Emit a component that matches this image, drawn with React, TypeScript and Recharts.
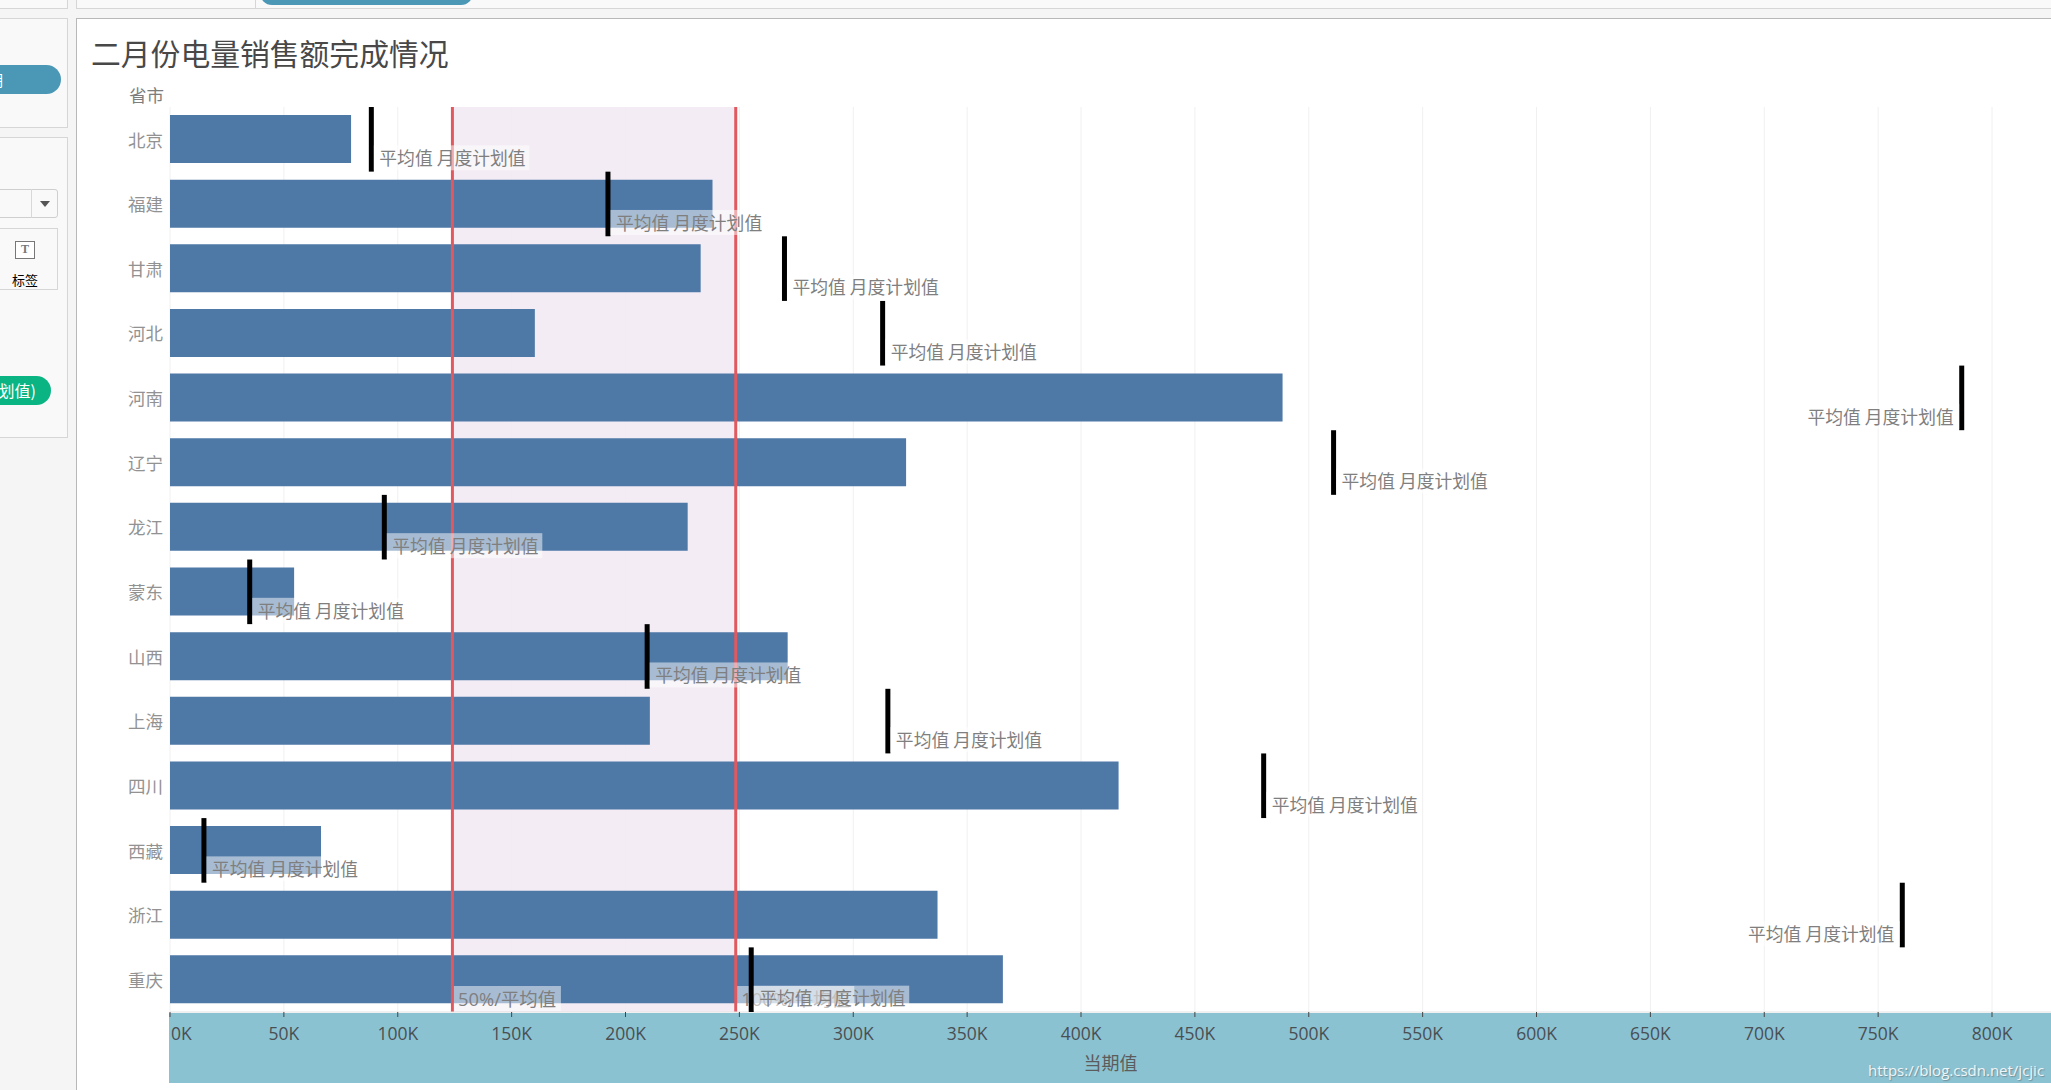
import React from "react";
import {
  ComposedChart, Bar, Line, XAxis, YAxis, CartesianGrid, ReferenceArea, ReferenceLine,
} from "recharts";

const provinces = ["北京","福建","甘肃","河北","河南","辽宁","龙江","蒙东","山西","上海","四川","西藏","浙江","重庆"];
const currentValues = [79500,238200,233000,160200,488500,323200,227300,54500,271200,210700,416500,66300,337000,365700];
const planValues = [88400,192300,269800,312900,786700,510900,94100,35000,209500,315200,480200,14900,760600,255200];
const xTicks = [0,50000,100000,150000,200000,250000,300000,350000,400000,450000,500000,550000,600000,650000,700000,750000,800000];
const halfAverage = 124000;
const fullAverage = 248400;
const xMax = 825900;

const data = provinces.map((name, i) => ({ name, current: currentValues[i], plan: planValues[i] }));

const W = 2051;
const H = 1090;
const LATIN = '"Open Sans","Noto Sans CJK SC",sans-serif';
const CJK = '"Noto Sans CJK SC",sans-serif';
const LABEL_TEXT = "平均值 月度计划值";

const PlanMark = (props: any) => {
  const { cx, cy, index } = props;
  const left = cx + 158 > W;
  return (
    <g key={`mark-${index}`}>
      <rect x={cx - 2.5} y={cy - 32.3} width={5} height={64.6} fill="#000" />
      <rect x={left ? cx - 158 : cx + 2.5} y={cy + 6} width={155.5} height={25} fill="rgba(255,255,255,0.5)" />
      <text
        x={left ? cx - 8 : cx + 8}
        y={cy + 17.8}
        textAnchor={left ? "end" : "start"}
        dominantBaseline="central"
        fontFamily={CJK}
        fontSize={17.8}
        fill="#7f7f7f"
      >
        {LABEL_TEXT}
      </text>
    </g>
  );
};

const XTick = (props: any) => {
  const { x, payload } = props;
  const first = payload.value === 0;
  return (
    <text
      x={first ? x + 1 : x}
      y={1033}
      textAnchor={first ? "start" : "middle"}
      dominantBaseline="central"
      fontFamily={LATIN}
      fontSize={17.5}
      fill="#4a4f52"
    >
      {payload.value / 1000}K
    </text>
  );
};

const refLabel = (text: string, w: number) => (p: any) => {
  const x = p.viewBox.x;
  const bottom = p.viewBox.y + p.viewBox.height;
  return (
    <g>
      <rect x={x + 1.5} y={bottom - 26} width={w} height={25} fill="rgba(255,255,255,0.5)" />
      <text x={x + 5.5} y={bottom - 14} dominantBaseline="central" fontFamily={LATIN} fontSize={18.4} fill="#7f7f7f">
        {text}
      </text>
    </g>
  );
};

const box = (s: React.CSSProperties): React.CSSProperties => ({ position: "absolute", boxSizing: "border-box", ...s });

export default function App() {
  return (
    <div style={{ position: "fixed", left: 0, top: 0, width: W, height: H, overflow: "hidden", background: "#f5f5f5", fontFamily: CJK }}>
      {/* Application chrome */}
      <div style={box({ left: -2, top: -2, width: 70, height: 11, background: "#f9f9f9", border: "1px solid #d6d6d6" })} />
      <div style={box({ left: -2, top: 18, width: 70, height: 110, background: "#f9f9f9", border: "1px solid #d6d6d6" })} />
      <div style={box({ left: -2, top: 137, width: 70, height: 301, background: "#f9f9f9", border: "1px solid #d6d6d6" })} />
      <div style={box({ left: 76, top: -2, width: 1980, height: 11, background: "#f9f9f9", border: "1px solid #d6d6d6" })} />
      <div style={box({ left: 255, top: 0, width: 1, height: 9, background: "#d6d6d6" })} />
      <div style={box({ left: 260, top: -20, width: 213, height: 25, borderRadius: 12, background: "#4a97b6" })} />

      <div style={box({ left: -30, top: 65, width: 91, height: 29, borderRadius: 15, background: "#4a97b6", overflow: "hidden" })}>
        <span style={{ position: "absolute", left: 18, top: 2, color: "#fff", fontSize: 15, lineHeight: "25px", whiteSpace: "nowrap" }}>期</span>
      </div>
      <div style={box({ left: -3, top: 189, width: 61, height: 29, borderRadius: 3, border: "1px solid #cfcfcf", background: "#f9f9f9" })} />
      <div style={box({ left: 31, top: 189, width: 1, height: 29, background: "#d8d8d8" })} />
      <div style={box({ left: 40, top: 201, width: 0, height: 0, borderLeft: "5px solid transparent", borderRight: "5px solid transparent", borderTop: "6px solid #555" })} />
      <div style={box({ left: -3, top: 228, width: 61, height: 62, border: "1px solid #d6d6d6", background: "#f9f9f9" })} />
      <div style={box({ left: 15, top: 241, width: 20, height: 18, border: "1.5px solid #777", background: "#fff", color: "#777", fontSize: 12, lineHeight: "15px", textAlign: "center", fontFamily: '"Liberation Serif",serif', fontWeight: 700 })}>T</div>
      <div style={box({ left: 0, top: 271, width: 50, height: 18, textAlign: "center", color: "#000", fontSize: 13, lineHeight: "18px" })}>标签</div>
      <div style={box({ left: -40, top: 376, width: 91, height: 29, borderRadius: 15, background: "#0ab583", overflow: "hidden" })}>
        <span style={{ position: "absolute", right: 15, top: 1, color: "#fff", fontSize: 16, lineHeight: "26px", whiteSpace: "nowrap" }}>(月度计划值)</span>
      </div>

      {/* Worksheet panel */}
      <div style={box({ left: 76, top: 18, width: 1990, height: 1090, background: "#fff", border: "1.5px solid #b8b8b8" })} />
      <div style={box({ left: 169, top: 1013, width: 1882, height: 70, background: "#8bc2d2" })} />
      <div style={box({ left: 91, top: 29.5, fontSize: 29.8, lineHeight: "44px", color: "#484848", whiteSpace: "nowrap" })}>二月份电量销售额完成情况</div>
      <div style={box({ left: 129, top: 83, fontSize: 17.5, lineHeight: "24px", color: "#7d7d7d", whiteSpace: "nowrap" })}>省市</div>

      <div style={{ position: "absolute", left: 0, top: 0 }}>
        <ComposedChart
          width={W}
          height={H}
          layout="vertical"
          data={data}
          margin={{ top: 107, right: 0, bottom: 0, left: 0 }}
          barSize={48}
          style={{ background: "transparent" }}
        >
          <CartesianGrid horizontal={false} vertical stroke="#f0f0f0" strokeWidth={1} verticalValues={xTicks.map((t) => t)} />
          <ReferenceArea x1={halfAverage} x2={fullAverage} fill="#f2eaf3" fillOpacity={0.9} stroke="none" />
          <XAxis
            type="number"
            orientation="bottom"
            domain={[0, xMax]}
            ticks={xTicks}
            height={78}
            interval={0}
            tick={<XTick />}
            tickSize={5}
            tickLine={{ stroke: "#444", strokeWidth: 1 }}
            axisLine={{ stroke: "#e2e2e2" }}
            label={{ value: "当期值", position: "insideBottom", offset: 20, fontFamily: CJK, fontSize: 18, fill: "#5c5c5c" }}
            allowDecimals={false}
          />
          <YAxis
            type="category"
            dataKey="name"
            width={170}
            tickLine={false}
            axisLine={false}
            tickSize={0}
            tickMargin={7}
            interval={0}
            tick={{ fontFamily: CJK, fontSize: 17.5, fill: "#929292", dy: 1 }}
          />
          <Bar dataKey="current" fill="#4e79a7" isAnimationActive={false} />
          <ReferenceLine x={halfAverage} stroke="#e1585e" strokeWidth={3} label={{ content: refLabel("50%/平均值", 107) }} />
          <Line dataKey="plan" stroke="none" isAnimationActive={false} dot={(p: any) => <PlanMark key={p.index} {...p} />} activeDot={false} legendType="none" />
          <ReferenceLine x={fullAverage} stroke="#e1585e" strokeWidth={3} label={{ content: refLabel("100%/平均值", 117) }} />
        </ComposedChart>
      </div>
      <div style={box({ left: 1868, top: 1058, fontFamily: LATIN, fontSize: 15, lineHeight: "24px", color: "#fff", opacity: 0.85, textShadow: "1px 1px 1px rgba(90,90,90,0.55)", whiteSpace: "nowrap" })}>https://blog.csdn.net/jcjic</div>
    </div>
  );
}
